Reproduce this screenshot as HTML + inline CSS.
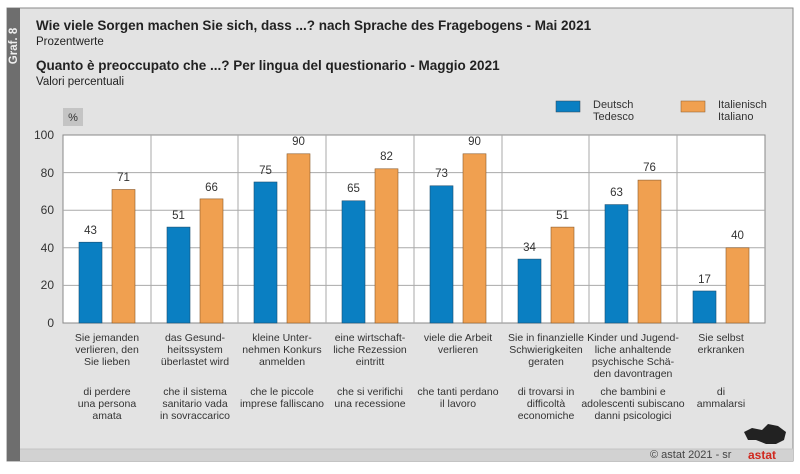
<!DOCTYPE html>
<html><head><meta charset="utf-8"><style>
body{margin:0;width:800px;height:469px;background:#fff;overflow:hidden}
svg text{font-family:"Liberation Sans",sans-serif}
</style></head><body>
<svg width="800" height="469" viewBox="0 0 800 469" xmlns="http://www.w3.org/2000/svg">
<rect x="7" y="8" width="786" height="453" fill="#e3e3e3" stroke="#8a8a8a" stroke-width="1"/>
<rect x="7" y="8" width="13" height="453" fill="#6e6e6e"/>
<rect x="20" y="449" width="773" height="12" fill="#d2d2d2"/>
<line x1="20" y1="449" x2="793" y2="449" fill="none" stroke="#c4c4c4"/>
<text transform="translate(17,46) rotate(-90)" font-size="11.5" font-weight="bold" fill="#eee" text-anchor="middle">Graf. 8</text>
<text x="36" y="30" font-size="13.5" font-weight="bold" fill="#222">Wie viele Sorgen machen Sie sich, dass ...? nach Sprache des Fragebogens - Mai 2021</text>
<text x="36" y="45" font-size="11.5" fill="#222">Prozentwerte</text>
<text x="36" y="70" font-size="13.5" font-weight="bold" fill="#222">Quanto è preoccupato che ...? Per lingua del questionario - Maggio 2021</text>
<text x="36" y="85" font-size="11.5" fill="#222">Valori percentuali</text>
<rect x="63" y="108" width="20" height="18" fill="#c4c4c4"/>
<text x="73" y="121" font-size="11" fill="#333" text-anchor="middle">%</text>
<rect x="556" y="101" width="24" height="11" fill="#0a7fc2" stroke="#345" stroke-width="0.5"/>
<text x="593" y="108" font-size="11" fill="#333">Deutsch</text>
<text x="593" y="120" font-size="11" fill="#333">Tedesco</text>
<rect x="681" y="101" width="24" height="11" fill="#f0a050" stroke="#8a5a2a" stroke-width="0.5"/>
<text x="718" y="108" font-size="11" fill="#333">Italienisch</text>
<text x="718" y="120" font-size="11" fill="#333">Italiano</text>
<rect x="63" y="135" width="702" height="188" fill="#fff" stroke="#888"/>
<g stroke="#aaa" stroke-width="1">
<line x1="63" y1="172.6" x2="765" y2="172.6"/><line x1="63" y1="210.2" x2="765" y2="210.2"/>
<line x1="63" y1="247.8" x2="765" y2="247.8"/><line x1="63" y1="285.4" x2="765" y2="285.4"/>
<line x1="151" y1="135" x2="151" y2="323"/><line x1="238" y1="135" x2="238" y2="323"/>
<line x1="326" y1="135" x2="326" y2="323"/><line x1="414" y1="135" x2="414" y2="323"/>
<line x1="502" y1="135" x2="502" y2="323"/><line x1="589" y1="135" x2="589" y2="323"/>
<line x1="677" y1="135" x2="677" y2="323"/>
</g>
<g font-size="12" fill="#333" text-anchor="end">
<text x="54" y="139">100</text><text x="54" y="177">80</text><text x="54" y="214">60</text>
<text x="54" y="252">40</text><text x="54" y="289">20</text><text x="54" y="327">0</text>
</g>
<g font-size="11.5" fill="#333" text-anchor="middle">
<rect x="79" y="242.2" width="23" height="80.8" fill="#0a7fc2" stroke="#1a4e70" stroke-width="0.6"/><text x="90.5" y="234">43</text>
<rect x="112" y="189.5" width="23" height="133.5" fill="#f0a050" stroke="#8a5a2a" stroke-width="0.6"/><text x="123.5" y="181">71</text>
<rect x="167" y="227.1" width="23" height="95.9" fill="#0a7fc2" stroke="#1a4e70" stroke-width="0.6"/><text x="178.5" y="219">51</text>
<rect x="200" y="198.9" width="23" height="124.1" fill="#f0a050" stroke="#8a5a2a" stroke-width="0.6"/><text x="211.5" y="191">66</text>
<rect x="254" y="182" width="23" height="141" fill="#0a7fc2" stroke="#1a4e70" stroke-width="0.6"/><text x="265.5" y="174">75</text>
<rect x="287" y="153.8" width="23" height="169.2" fill="#f0a050" stroke="#8a5a2a" stroke-width="0.6"/><text x="298.5" y="145">90</text>
<rect x="342" y="200.8" width="23" height="122.2" fill="#0a7fc2" stroke="#1a4e70" stroke-width="0.6"/><text x="353.5" y="192">65</text>
<rect x="375" y="168.8" width="23" height="154.2" fill="#f0a050" stroke="#8a5a2a" stroke-width="0.6"/><text x="386.5" y="160">82</text>
<rect x="430" y="185.8" width="23" height="137.2" fill="#0a7fc2" stroke="#1a4e70" stroke-width="0.6"/><text x="441.5" y="177">73</text>
<rect x="463" y="153.8" width="23" height="169.2" fill="#f0a050" stroke="#8a5a2a" stroke-width="0.6"/><text x="474.5" y="145">90</text>
<rect x="518" y="259.1" width="23" height="63.9" fill="#0a7fc2" stroke="#1a4e70" stroke-width="0.6"/><text x="529.5" y="251">34</text>
<rect x="551" y="227.1" width="23" height="95.9" fill="#f0a050" stroke="#8a5a2a" stroke-width="0.6"/><text x="562.5" y="219">51</text>
<rect x="605" y="204.6" width="23" height="118.4" fill="#0a7fc2" stroke="#1a4e70" stroke-width="0.6"/><text x="616.5" y="196">63</text>
<rect x="638" y="180.1" width="23" height="142.9" fill="#f0a050" stroke="#8a5a2a" stroke-width="0.6"/><text x="649.5" y="171">76</text>
<rect x="693" y="291" width="23" height="32" fill="#0a7fc2" stroke="#1a4e70" stroke-width="0.6"/><text x="704.5" y="283">17</text>
<rect x="726" y="247.8" width="23" height="75.2" fill="#f0a050" stroke="#8a5a2a" stroke-width="0.6"/><text x="737.5" y="239">40</text>
</g>
<g font-size="10.5" fill="#333" text-anchor="middle">
<text x="107" y="341">Sie jemanden</text><text x="107" y="353">verlieren, den</text><text x="107" y="365">Sie lieben</text>
<text x="107" y="395">di perdere</text><text x="107" y="407">una persona</text><text x="107" y="419">amata</text>
<text x="195" y="341">das Gesund-</text><text x="195" y="353">heitssystem</text><text x="195" y="365">überlastet wird</text>
<text x="195" y="395">che il sistema</text><text x="195" y="407">sanitario vada</text><text x="195" y="419">in sovraccarico</text>
<text x="282" y="341">kleine Unter-</text><text x="282" y="353">nehmen Konkurs</text><text x="282" y="365">anmelden</text>
<text x="282" y="395">che le piccole</text><text x="282" y="407">imprese falliscano</text>
<text x="370" y="341">eine wirtschaft-</text><text x="370" y="353">liche Rezession</text><text x="370" y="365">eintritt</text>
<text x="370" y="395">che si verifichi</text><text x="370" y="407">una recessione</text>
<text x="458" y="341">viele die Arbeit</text><text x="458" y="353">verlieren</text>
<text x="458" y="395">che tanti perdano</text><text x="458" y="407">il lavoro</text>
<text x="546" y="341">Sie in finanzielle</text><text x="546" y="353">Schwierigkeiten</text><text x="546" y="365">geraten</text>
<text x="546" y="395">di trovarsi in</text><text x="546" y="407">difficoltà</text><text x="546" y="419">economiche</text>
<text x="633" y="341">Kinder und Jugend-</text><text x="633" y="353">liche anhaltende</text><text x="633" y="365">psychische Schä-</text><text x="633" y="377">den davontragen</text>
<text x="633" y="395">che bambini e</text><text x="633" y="407">adolescenti subiscano</text><text x="633" y="419">danni psicologici</text>
<text x="721" y="341">Sie selbst</text><text x="721" y="353">erkranken</text>
<text x="721" y="395">di</text><text x="721" y="407">ammalarsi</text>
</g>
<path d="M744 432 L752 428 L762 430 L768 424 L778 426 L786 432 L784 440 L776 444 L766 444 L756 440 L748 440 Z" fill="#222"/>
<text x="650" y="458" font-size="11" fill="#444">© astat 2021 - sr</text>
<text x="748" y="459" font-size="12" font-weight="bold" fill="#d0281e">astat</text>
</svg>
</body></html>
